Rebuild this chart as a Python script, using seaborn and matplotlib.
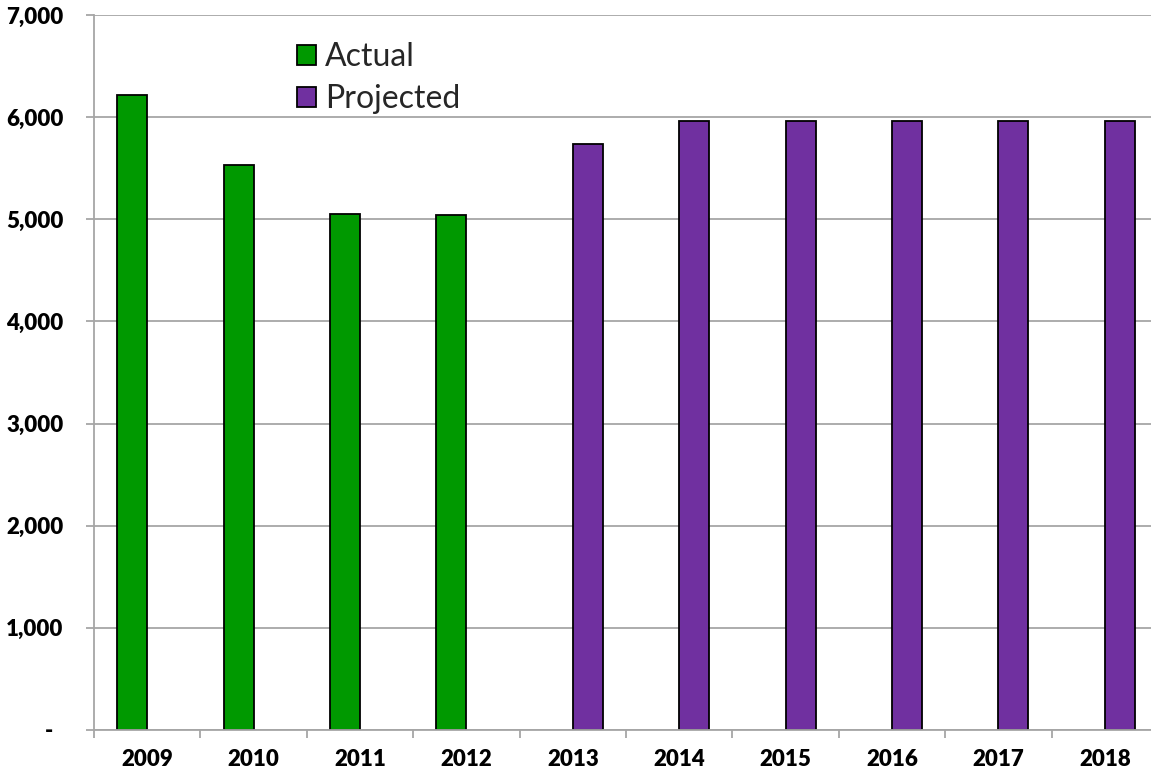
import matplotlib
matplotlib.use("Agg")
import matplotlib.pyplot as plt
import seaborn as sns
import pandas as pd
from matplotlib.ticker import FixedLocator, FuncFormatter

# Annual totals: recorded years and projections
years = ["2009", "2010", "2011", "2012", "2013", "2014", "2015", "2016", "2017", "2018"]
actual = [6220, 5530, 5050, 5040]
projected = [5735, 5965, 5965, 5965, 5965, 5965]
series_names = ["Actual", "Projected"]
series_colors = {"Actual": "#009900", "Projected": "#7030A0"}
y_ticks = [0, 1000, 2000, 3000, 4000, 5000, 6000, 7000]

df = pd.DataFrame({
    "Year": years,
    "Value": actual + projected,
    "Series": [series_names[0]] * len(actual) + [series_names[1]] * len(projected),
})

sns.set_theme(style="white")
plt.rcParams["font.family"] = ["Lato", "DejaVu Sans"]

W, H = 1151, 775
fig = plt.figure(figsize=(W / 100, H / 100), dpi=100)
ax = fig.add_axes([94 / W, 45 / H, (1158 - 94) / W, (730 - 15) / H])

sns.barplot(
    data=df, x="Year", y="Value", hue="Series",
    order=years, hue_order=series_names, palette=series_colors,
    width=0.565, gap=0, saturation=1, dodge=True,
    edgecolor="black", linewidth=1.3, ax=ax,
)

grid_color = "#A6A6A6"
ax.set_ylim(0, 7000)
ax.set_xlim(-0.5, len(years) - 0.5)
ax.set_xlabel("")
ax.set_ylabel("")

ax.yaxis.set_major_locator(FixedLocator(y_ticks))
ax.yaxis.set_major_formatter(FuncFormatter(lambda v, p: "-  " if v == 0 else f"{int(v):,}"))
ax.yaxis.grid(True, color=grid_color, linewidth=1.3)
ax.set_axisbelow(True)

for side in ("top", "right"):
    ax.spines[side].set_visible(False)
for side in ("left", "bottom"):
    ax.spines[side].set_color(grid_color)
    ax.spines[side].set_linewidth(1.3)

ax.tick_params(axis="y", which="major", left=True, length=6, width=1.3, color=grid_color,
               pad=16, labelsize=16)
ax.tick_params(axis="x", which="major", bottom=True, length=0, pad=14, labelsize=16)
ax.xaxis.set_minor_locator(FixedLocator([i - 0.5 for i in range(len(years) + 1)]))
ax.tick_params(axis="x", which="minor", bottom=True, length=6, width=1.3, color=grid_color)
for lbl in ax.get_xticklabels() + ax.get_yticklabels():
    lbl.set_fontweight("heavy")
    lbl.set_color("black")

handles, labels = ax.get_legend_handles_labels()
ax.legend(
    handles, labels, loc="upper left",
    bbox_to_anchor=(297 / W, 1 - 42 / H), bbox_transform=fig.transFigure,
    frameon=False, fontsize=23, handlelength=0.6, handleheight=0.6,
    handletextpad=0.28, labelspacing=0.38, borderpad=0, borderaxespad=0,
)

fig.savefig("out.png", dpi=100, facecolor="white")
